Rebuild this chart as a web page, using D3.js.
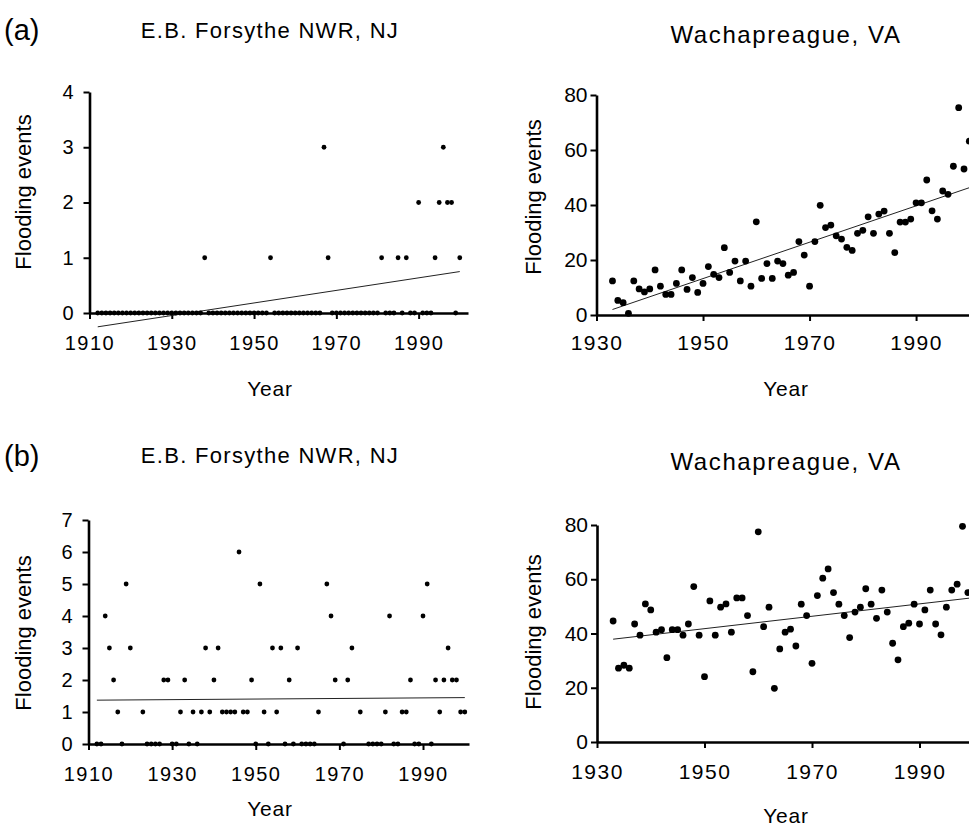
<!DOCTYPE html>
<meta charset="utf-8">
<script src="https://d3js.org/d3.v7.min.js"></script>
<body style="margin:0;background:#fff"></body>
<style>
  text { font-family: "Liberation Sans", Arial, sans-serif; fill: #000; }
  .axis .domain { stroke: #000; stroke-width: 2.6px; }
  .axis line { stroke: #000; stroke-width: 2px; }
  .trend { stroke: #222; stroke-width: 1px; fill: none; }
</style>
<script>

// (a) E.B. Forsythe NWR, NJ - flooding events per year
var forsytheYearsA = [
  1912,1913,1914,1915,1916,1917,1918,1919,1920,1921,
  1922,1923,1924,1925,1926,1927,1928,1929,1930,1931,
  1932,1933,1934,1935,1936,1937,1938,1939,1940,1941,
  1942,1943,1944,1945,1946,1947,1948,1949,1950,1951,
  1952,1953,1954,1955,1956,1957,1958,1959,1960,1961,
  1962,1963,1964,1965,1966,1967,1968,1969,1970,1971,
  1972,1973,1974,1975,1976,1977,1978,1979,1980,1981,
  1982,1983,1984,1985,1986,1987,1988,1989,1990,1991,
  1992,1993,1994,1995,1996,1997,1998,1999,2000];
var forsytheFloodsA = [
  0,0,0,0,0,0,0,0,0,0,
  0,0,0,0,0,0,0,0,0,0,
  0,0,0,0,0,0,1,0,0,0,
  0,0,0,0,0,0,0,0,0,0,
  0,0,1,0,0,0,0,0,0,0,
  0,0,0,0,0,3,1,0,0,0,
  0,0,0,0,0,0,0,0,0,1,
  0,0,0,1,0,1,0,0,2,0,
  0,0,1,2,3,2,2,0,1];

// (a) Wachapreague, VA
var wachYearsA = [
  1933,1934,1935,1936,1937,1938,1939,1940,1941,1942,
  1943,1944,1945,1946,1947,1948,1949,1950,1951,1952,
  1953,1954,1955,1956,1957,1958,1959,1960,1961,1962,
  1963,1964,1965,1966,1967,1968,1969,1970,1971,1972,
  1973,1974,1975,1976,1977,1978,1979,1980,1981,1982,
  1983,1984,1985,1986,1987,1988,1989,1990,1991,1992,
  1993,1994,1995,1996,1997,1998,1999,2000];
var wachFloodsA = [
  12.4,5.3,4.5,0.6,12.4,9.5,8.4,9.5,16.4,10.5,
  7.5,7.5,11.5,16.4,9.3,13.6,8.2,11.5,17.6,14.8,
  13.6,24.5,15.5,19.6,12.4,19.6,10.5,33.9,13.3,18.7,
  13.3,19.6,18.7,14.5,15.5,26.7,21.8,10.5,26.7,39.9,
  31.8,32.7,28.8,27.6,24.6,23.5,29.7,30.8,35.7,29.7,
  36.7,37.8,29.7,22.7,33.8,33.8,34.9,40.8,40.8,49.1,
  37.9,34.9,45.1,43.9,54.1,75.4,53.1,63.2];

// (b) E.B. Forsythe NWR, NJ (years with no record are left out)
var forsytheYearsB = [
  1912,1913,1914,1915,1916,1917,1918,1919,1920,1923,
  1924,1925,1926,1927,1928,1929,1930,1931,1932,1933,
  1934,1935,1936,1937,1938,1939,1940,1941,1942,1943,
  1944,1945,1946,1947,1948,1949,1950,1951,1952,1953,
  1954,1955,1956,1957,1958,1959,1960,1961,1962,1963,
  1964,1965,1967,1968,1969,1971,1972,1973,1975,1977,
  1978,1979,1980,1981,1982,1983,1984,1985,1986,1987,
  1988,1989,1990,1991,1992,1993,1994,1995,1996,1997,
  1998,1999,2000];
var forsytheFloodsB = [
  0,0,4,3,2,1,0,5,3,1,
  0,0,0,0,2,2,0,0,1,2,
  0,1,0,1,3,1,2,3,1,1,
  1,1,6,1,1,2,0,5,1,0,
  3,1,3,0,2,0,3,0,0,0,
  0,1,5,4,2,0,2,3,1,0,
  0,0,0,1,4,0,0,1,1,2,
  0,0,4,5,0,2,1,2,3,2,
  2,1,1];

// (b) Wachapreague, VA
var wachYearsB = wachYearsA;
var wachFloodsB = [
  44.6,27.2,28.3,27.2,43.5,39.4,50.9,48.7,40.5,41.4,
  31.1,41.4,41.4,39.4,43.5,57.3,39.4,24.1,52.0,39.4,
  49.7,50.9,40.5,53.1,53.1,46.6,25.9,77.5,42.5,49.7,
  19.8,34.3,40.5,41.6,35.4,50.8,46.6,29.0,54.0,60.4,
  63.8,55.1,50.8,46.6,38.5,47.9,49.7,56.5,50.8,45.6,
  56.0,47.9,36.4,30.3,42.5,43.8,50.8,43.5,48.7,56.0,
  43.5,39.5,49.7,56.0,58.2,79.5,55.1,65.0];

// fitted trend lines, end points
var trendForsytheA = [[1912, -0.25], [2000, 0.75]];
var trendWachA = [[1933, 2.0], [2000, 46.3]];
var trendForsytheB = [[1912, 1.37], [2000, 1.45]];
var trendWachB = [[1933, 37.9], [2000, 53.2]];

var ticksYearLeft = [1910, 1930, 1950, 1970, 1990];
var ticksYearRight = [1930, 1950, 1970, 1990];

var width = 969, height = 828;

var svg = d3.select("body").append("svg")
    .attr("width", width)
    .attr("height", height);

svg.append("rect").attr("width", width).attr("height", height).attr("fill", "#fff");

function panel(p) {
  var x = d3.scaleLinear().domain(p.xDomain).range(p.xRange);
  var y = d3.scaleLinear().domain(p.yDomain).range(p.yRange);
  var g = svg.append("g");

  var xAxis = g.append("g").attr("class", "axis")
      .attr("transform", "translate(0," + y(0) + ")")
      .call(d3.axisBottom(x).tickValues(p.xTicks).tickFormat(d3.format("d"))
        .tickSize(6).tickSizeOuter(0).tickPadding(p.xPad));
  xAxis.attr("font-size", p.tickFont).attr("font-family", null);
  xAxis.selectAll("text").attr("letter-spacing", 1.5);

  var yAxis = g.append("g").attr("class", "axis")
      .attr("transform", "translate(" + x.range()[0] + ",0)")
      .call(d3.axisLeft(y).tickValues(p.yTicks).tickFormat(d3.format("d"))
        .tickSize(6).tickSizeOuter(0).tickPadding(p.yPad));
  yAxis.attr("font-size", p.tickFont).attr("font-family", null);

  g.append("path").attr("class", "trend")
      .attr("d", d3.line().x(function(d) { return x(d[0]); }).y(function(d) { return y(d[1]); })(p.trend));

  g.selectAll("circle").data(p.years).enter().append("circle")
      .attr("cx", function(d) { return x(d); })
      .attr("cy", function(d, i) { return y(p.values[i]); })
      .attr("r", p.r)
      .attr("fill", "#000");

  g.append("text").attr("x", p.titleX).attr("y", p.titleY)
      .attr("text-anchor", "middle").attr("font-size", p.titleFont).attr("letter-spacing", p.titleSpacing)
      .text(p.title);

  g.append("text").attr("x", p.titleX).attr("y", p.yearY)
      .attr("text-anchor", "middle").attr("font-size", 21).attr("letter-spacing", 0.8)
      .text("Year");

  g.append("text")
      .attr("transform", "translate(" + p.labX + "," + p.labY + ") rotate(-90)")
      .attr("text-anchor", "middle").attr("font-size", 22)
      .text("Flooding events");
}

panel({ title: "E.B. Forsythe NWR, NJ", titleX: 270, titleY: 38, yearY: 396,
  titleFont: 22, titleSpacing: 1.3,
  xDomain: [1910, 2002], xRange: [89.5, 468], yDomain: [0, 4], yRange: [313, 92],
  xTicks: ticksYearLeft, yTicks: [0, 1, 2, 3, 4], xPad: 17, yPad: 10, tickFont: 20,
  years: forsytheYearsA, values: forsytheFloodsA, trend: trendForsytheA, r: 2.4,
  labX: 31, labY: 192 });

panel({ title: "Wachapreague, VA", titleX: 786, titleY: 43, yearY: 396,
  titleFont: 24, titleSpacing: 1.6,
  xDomain: [1930, 2002], xRange: [596.5, 980], yDomain: [0, 80], yRange: [315, 95],
  xTicks: ticksYearRight, yTicks: [0, 20, 40, 60, 80], xPad: 14, yPad: 3, tickFont: 21,
  years: wachYearsA, values: wachFloodsA, trend: trendWachA, r: 3.4,
  labX: 541, labY: 197 });

panel({ title: "E.B. Forsythe NWR, NJ", titleX: 270, titleY: 463, yearY: 816,
  titleFont: 22, titleSpacing: 1.3,
  xDomain: [1910, 2001], xRange: [88.5, 469], yDomain: [0, 7], yRange: [744, 520],
  xTicks: ticksYearLeft, yTicks: [0, 1, 2, 3, 4, 5, 6, 7], xPad: 17, yPad: 10, tickFont: 20,
  years: forsytheYearsB, values: forsytheFloodsB, trend: trendForsytheB, r: 2.4,
  labX: 31, labY: 633 });

panel({ title: "Wachapreague, VA", titleX: 786, titleY: 470, yearY: 823,
  titleFont: 24, titleSpacing: 1.6,
  xDomain: [1930, 2002], xRange: [597, 984], yDomain: [0, 80], yRange: [742, 525],
  xTicks: ticksYearRight, yTicks: [0, 20, 40, 60, 80], xPad: 16, yPad: 3, tickFont: 21,
  years: wachYearsB, values: wachFloodsB, trend: trendWachB, r: 3.4,
  labX: 541, labY: 632 });

// panel letters
svg.append("text").attr("x", 4).attr("y", 40).attr("font-size", 29).text("(a)");
svg.append("text").attr("x", 4).attr("y", 466).attr("font-size", 29).text("(b)");

</script>
